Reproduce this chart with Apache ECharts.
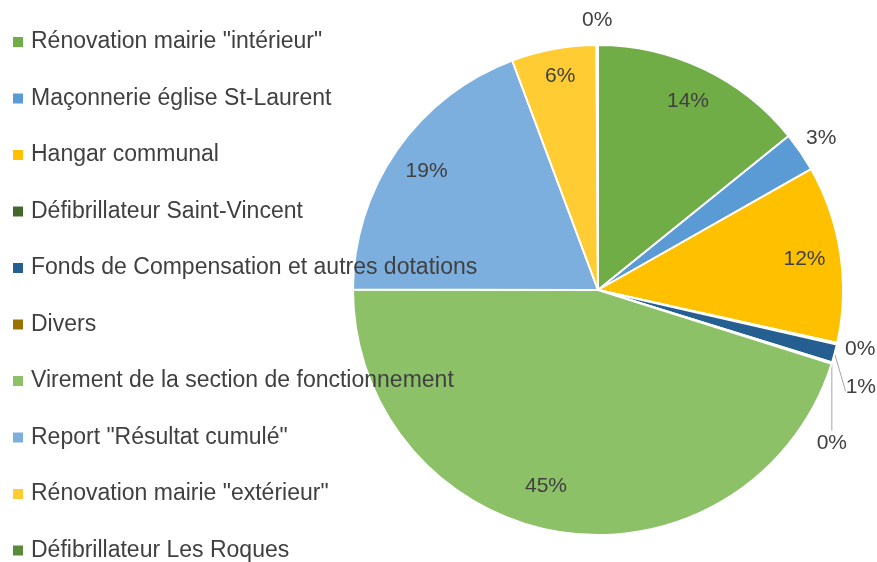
<!DOCTYPE html>
<html>
<head>
<meta charset="utf-8">
<script src="https://cdn.jsdelivr.net/npm/echarts@6/dist/echarts.min.js"></script>
<style>
  html, body { margin: 0; padding: 0; background: #fff; }
  #chart { width: 877px; height: 562px; }
</style>
</head>
<body>
<div id="chart"></div>
<script>
const categories = [
  'Rénovation mairie "intérieur"',
  'Maçonnerie église St-Laurent',
  'Hangar communal',
  'Défibrillateur Saint-Vincent',
  'Fonds de Compensation et autres dotations',
  'Divers',
  'Virement de la section de fonctionnement',
  'Report "Résultat cumulé"',
  'Rénovation mairie "extérieur"',
  'Défibrillateur Les Roques'
]
const shares = [14.2, 2.6, 11.7, 0.1, 1.2, 0.1, 45.2, 19.3, 5.6, 0.1]
const colors = ['#70AD47', '#5B9BD5', '#FFC000', '#43682B', '#255E91', '#997300', '#8CC168', '#7CAFDD', '#FFCD33', '#5A8A39']

// the three tiny adjacent slices get their labels pushed apart, as Excel did
// (offsets from the slice rim, in px)
const leaderLayout = {
  'Défibrillateur Saint-Vincent': { dx: 8, dy: 5, align: 'left', line: false },
  'Fonds de Compensation et autres dotations': { dx: 11, dy: 34, align: 'left', line: true },
  'Divers': { dx: 0, dy: 80, align: 'center', line: true }
}
// Excel's "best fit" moved a couple of inside labels off the mid-angle
const insideNudge = {
  'Virement de la section de fonctionnement': { dx: -20, dy: -10 },
  'Rénovation mairie "extérieur"': { dx: 0, dy: -8 }
}

const R = 245
const center = [598, 290]
const pct = p => Math.round(p.percent) + '%'
const isBig = v => v >= 4
const font = { fontFamily: 'Liberation Sans', fontSize: 21, color: '#404040' }

const chart = echarts.init(document.getElementById('chart'))

const ring = (radius, showFn) => ({
  type: 'pie',
  center: center,
  radius: radius,
  startAngle: 90,
  silent: true,
  avoidLabelOverlap: false,
  itemStyle: { color: 'rgba(0,0,0,0)', borderWidth: 0 },
  label: Object.assign({ position: 'inside', formatter: pct }, font),
  labelLine: { show: false },
  labelLayout: params => insideNudge[categories[params.dataIndex]] || {},
  data: categories.map((name, i) => ({
    name,
    value: shares[i],
    label: { show: showFn(name, shares[i]) }
  }))
})

chart.setOption({
  animation: false,
  legend: {
    orient: 'vertical',
    left: 13,
    top: 30,
    height: 1000,
    padding: 0,
    data: categories,
    icon: 'rect',
    itemWidth: 10,
    itemHeight: 10,
    itemGap: 32.5,
    selectedMode: false,
    itemStyle: { borderWidth: 0 },
    textStyle: { fontFamily: 'Liberation Sans', fontSize: 23, color: '#404040', lineHeight: 24, padding: [0, 0, 0, 3] }
  },
  series: [
    {
      type: 'pie',
      center: center,
      radius: [0, R],
      startAngle: 90,
      avoidLabelOverlap: false,
      itemStyle: { borderColor: '#fff', borderWidth: 2 },
      label: Object.assign({ position: 'outside', formatter: pct, overflow: 'none' }, font),
      labelLine: { length: 10, length2: 0, lineStyle: { color: '#a6a6a6', width: 1 } },
      labelLayout: function (params) {
        const cfg = leaderLayout[categories[params.dataIndex]]
        if (!cfg) return {}
        // point on the rim at the middle of the slice
        let p0
        if (params.labelLinePoints) {
          p0 = params.labelLinePoints[0]
        } else {
          let before = 0
          for (let k = 0; k < params.dataIndex; k++) before += shares[k]
          const total = shares.reduce((a, b) => a + b, 0)
          const ang = (before + shares[params.dataIndex] / 2) / total * 2 * Math.PI
          p0 = [center[0] + R * Math.sin(ang), center[1] - R * Math.cos(ang)]
        }
        const lx = p0[0] + cfg.dx
        const ly = p0[1] + cfg.dy
        const out = { x: lx, y: ly, align: cfg.align, verticalAlign: 'middle' }
        if (cfg.line) {
          const endY = cfg.align === 'center' ? ly - params.labelRect.height / 2 - 2 : ly + 4
          out.labelLinePoints = [p0, [lx, endY], [lx, endY]]
        }
        return out
      },
      data: categories.map((name, i) => ({
        name,
        value: shares[i],
        itemStyle: { color: colors[i] },
        label: { show: name in leaderLayout },
        labelLine: { show: name in leaderLayout && leaderLayout[name].line }
      }))
    },
    // inside labels sit at ~0.84R in the reference
    ring([R * 0.68, R], (n, v) => isBig(v)),
    // small slices without leader line: label just outside the rim
    ring([R + 5, R + 39], (n, v) => !isBig(v) && !(n in leaderLayout))
  ]
})
</script>
</body>
</html>
